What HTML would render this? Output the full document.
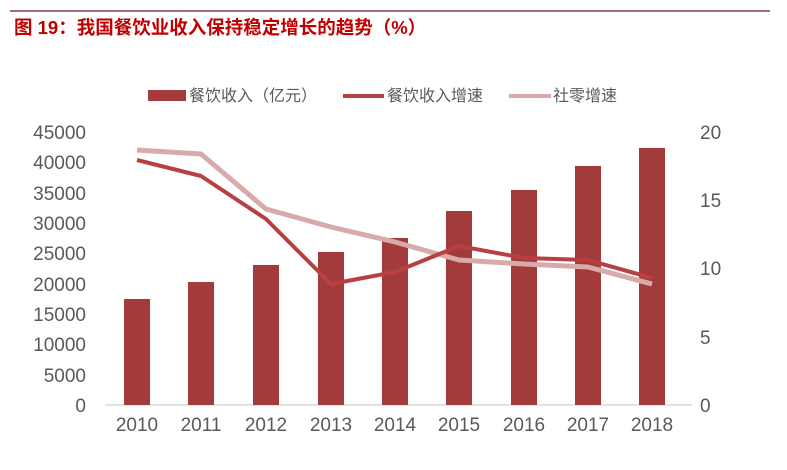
<!DOCTYPE html>
<html><head><meta charset="utf-8"><style>
html,body{margin:0;padding:0;background:#fff;}
body{width:787px;height:465px;overflow:hidden;}
text{font-family:"Liberation Sans Narrow","Liberation Sans","Noto Sans CJK SC",sans-serif;}
</style></head><body>
<svg width="787" height="465" viewBox="0 0 787 465" xmlns="http://www.w3.org/2000/svg">
<line x1="10" y1="11" x2="770" y2="11" stroke="#6b1a1a" stroke-width="1.2"/>
<text x="14" y="34" font-size="18.5" font-weight="bold" fill="#c00000" style='font-family:"Liberation Sans","Noto Sans CJK SC",sans-serif'>图 19：我国餐饮业收入保持稳定增长的趋势（%）</text>
<g font-size="16" fill="#595959" style='font-family:"Liberation Sans","Noto Sans CJK SC",sans-serif'>
<rect x="148" y="90" width="38" height="11" fill="#a33b3b"/>
<text x="189" y="101">餐饮收入（亿元）</text>
<line x1="343" y1="96" x2="384" y2="96" stroke="#b84040" stroke-width="4"/>
<text x="387" y="101">餐饮收入增速</text>
<line x1="509" y1="96" x2="551" y2="96" stroke="#d9aaaa" stroke-width="4"/>
<text x="553" y="101">社零增速</text>
</g>
<g font-size="19" fill="#595959" text-anchor="end">
<text x="86" y="139">45000</text><text x="86" y="169">40000</text><text x="86" y="200">35000</text>
<text x="86" y="230">30000</text><text x="86" y="260">25000</text><text x="86" y="291">20000</text>
<text x="86" y="321">15000</text><text x="86" y="351">10000</text><text x="86" y="382">5000</text>
<text x="86" y="412">0</text>
</g>
<g font-size="19" fill="#595959">
<text x="700" y="139">20</text><text x="700" y="207">15</text><text x="700" y="275">10</text>
<text x="700" y="344">5</text><text x="700" y="412">0</text>
</g>
<line x1="105" y1="405" x2="692" y2="405" stroke="#d9d9d9" stroke-width="1.5"/>
<g fill="#a33b3b">
<rect x="124" y="299" width="26" height="106"/>
<rect x="188" y="282" width="26" height="123"/>
<rect x="253" y="265" width="26" height="140"/>
<rect x="318" y="252" width="26" height="153"/>
<rect x="382" y="238" width="26" height="167"/>
<rect x="446" y="211" width="26" height="194"/>
<rect x="511" y="190" width="26" height="215"/>
<rect x="575" y="166" width="26" height="239"/>
<rect x="639" y="148" width="26" height="257"/>
</g>
<polyline fill="none" stroke="#d9aaaa" stroke-width="5" stroke-linejoin="round" points="137,150 201,154 266,209 331,227 395,242 459,260 524,264 588,267 652,284"/>
<polyline fill="none" stroke="#b84040" stroke-width="4" stroke-linejoin="round" points="137,160 201,176 266,219 331,284 395,272 459,246 524,258 588,260 652,278"/>
<g font-size="19" fill="#595959" text-anchor="middle">
<text x="137" y="431">2010</text><text x="201" y="431">2011</text><text x="266" y="431">2012</text>
<text x="331" y="431">2013</text><text x="395" y="431">2014</text><text x="459" y="431">2015</text>
<text x="524" y="431">2016</text><text x="588" y="431">2017</text><text x="652" y="431">2018</text>
</g>
</svg>
</body></html>
